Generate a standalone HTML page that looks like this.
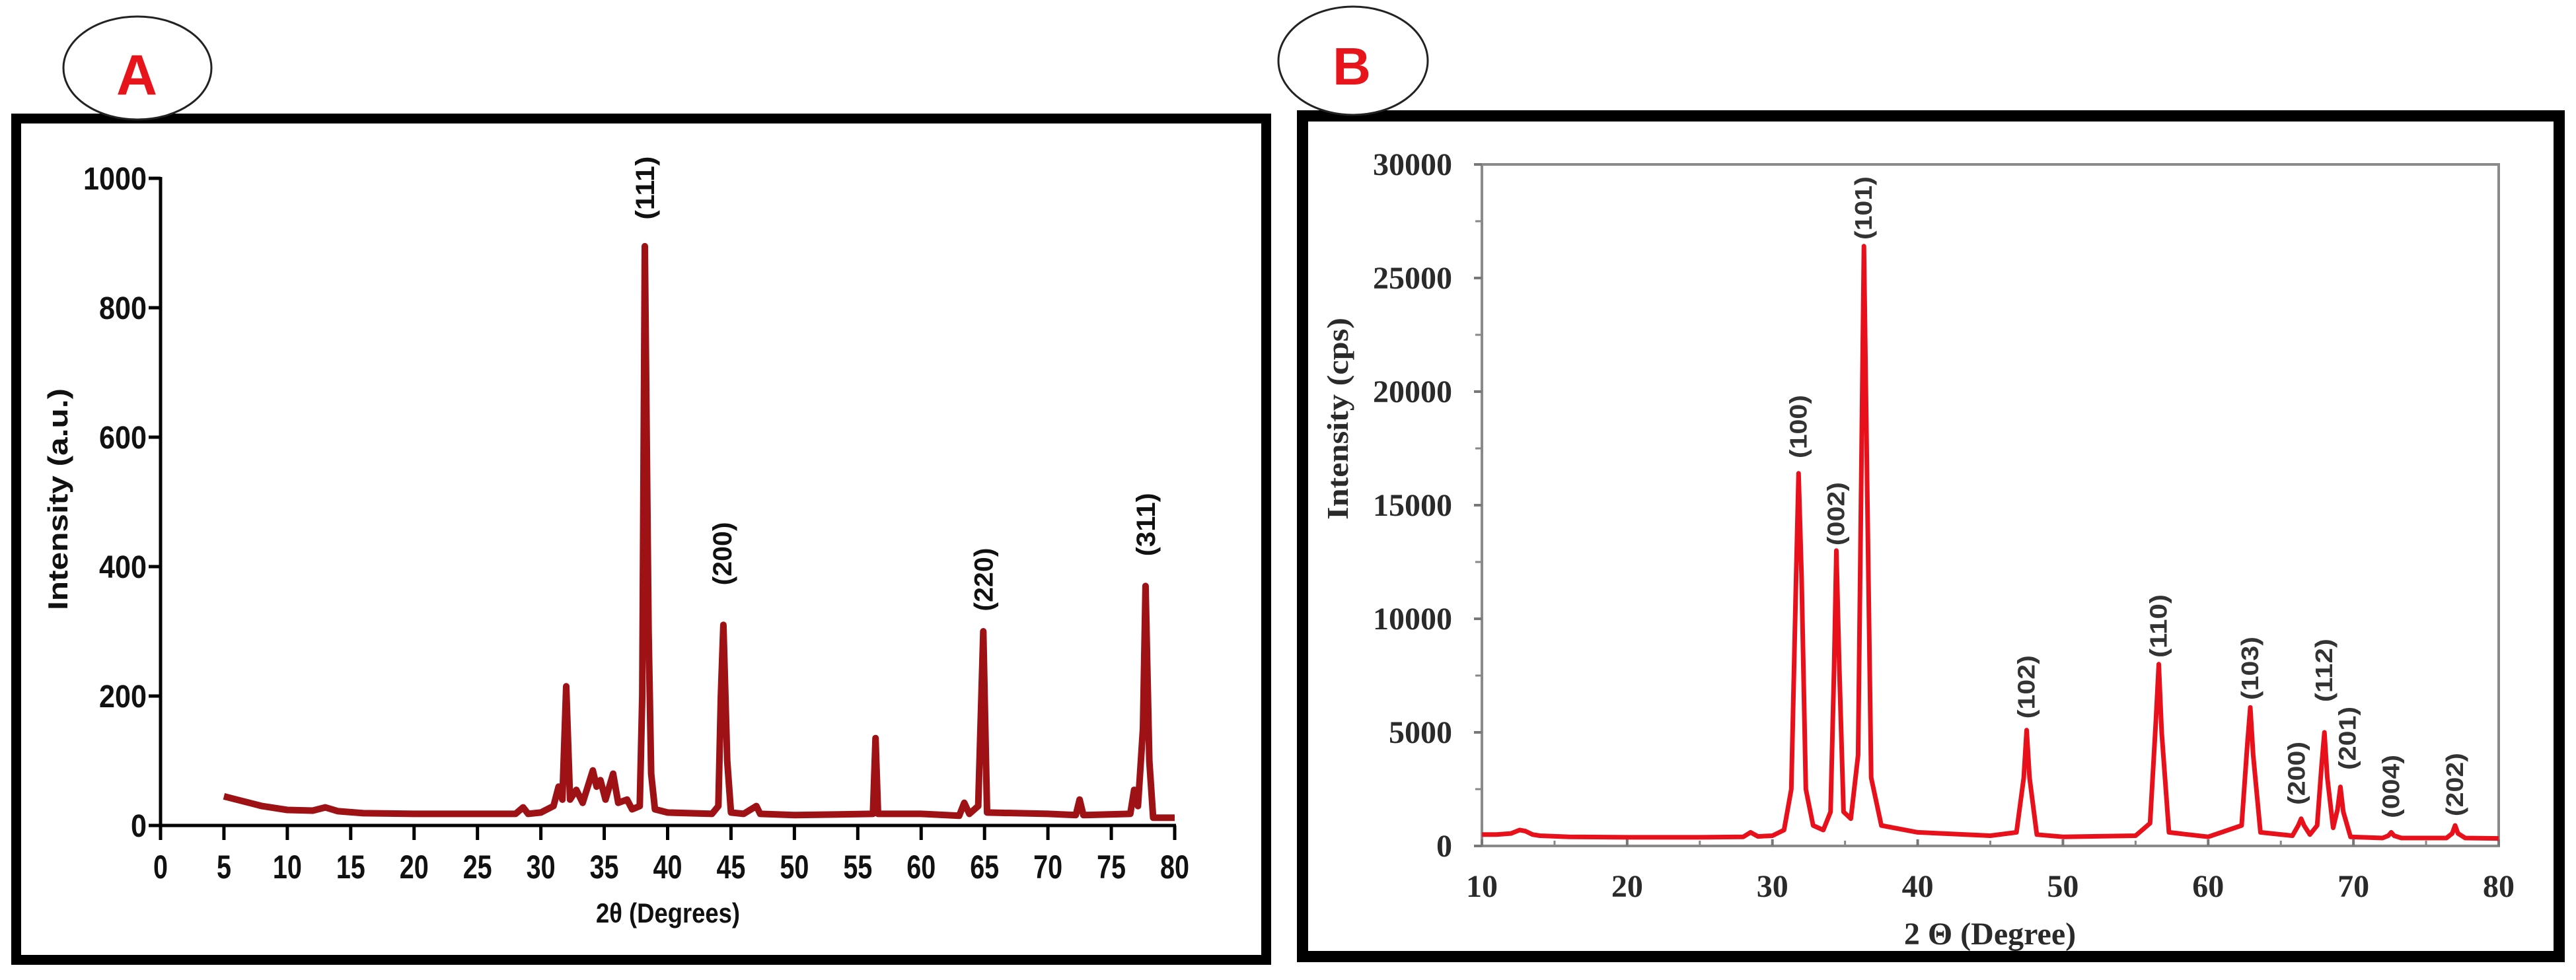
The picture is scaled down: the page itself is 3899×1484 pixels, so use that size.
<!DOCTYPE html>
<html><head><meta charset="utf-8">
<style>
html,body{margin:0;padding:0;background:#fff;}
svg{display:block;}
</style></head>
<body>
<svg id="fig" width="3899" height="1484" viewBox="0 0 3899 1484" xmlns="http://www.w3.org/2000/svg">
  <rect x="0" y="0" width="3899" height="1484" fill="#fff"/>
  <rect x="24.5" y="179.5" width="1892" height="1274" fill="none" stroke="#000" stroke-width="15"/>
  <ellipse cx="208" cy="103" rx="112" ry="78" fill="#fff" stroke="#222" stroke-width="3"/>
  <text x="207" y="143" text-anchor="middle" font-family="Liberation Sans, sans-serif" font-weight="bold" font-size="86" fill="#e8141c">A</text>
  <rect x="1971.5" y="175.5" width="1902" height="1273" fill="none" stroke="#000" stroke-width="17"/>
  <ellipse cx="2048" cy="92" rx="113" ry="82" fill="#fff" stroke="#222" stroke-width="3"/>
  <text x="2046" y="128" text-anchor="middle" font-family="Liberation Sans, sans-serif" font-weight="bold" font-size="80" fill="#e8141c">B</text>
  <g id="chartA"></g>
  <g id="chartB"></g>
</svg>
<script>
// ---------- Panel A data ----------
const aTheta = [5,6,7,8,10,12,13,14,16,20,25,28,28.6,29,30,31,31.4,31.7,32.0,32.3,32.8,33.3,34.1,34.4,34.7,35.1,35.7,36.1,36.8,37.2,37.8,38.0,38.2,38.5,38.7,39,40,43.5,44.0,44.2,44.4,44.7,45,46,47,47.3,50,56.2,56.4,56.6,60,63,63.4,63.8,64.5,64.9,65.2,70,72.2,72.5,72.8,76.5,76.8,77.1,77.5,77.7,78.0,78.3,80];
const aIntensity = [45,40,35,30,24,23,28,22,19,18,18,18,28,18,20,30,60,40,215,40,55,35,85,60,70,40,80,35,40,25,30,200,895,300,80,25,20,18,30,200,310,100,20,18,30,18,16,18,135,18,18,15,35,18,30,300,20,18,16,40,16,18,55,30,150,370,100,12,12];
const aYTicks = [0,200,400,600,800,1000];
const aXTicks = [0,5,10,15,20,25,30,35,40,45,50,55,60,65,70,75,80];
const aPeakLabels = ["(111)","(200)","(220)","(311)"];
const aPeakLabelTheta = [38.2,44.3,64.9,77.7];
const aPeakLabelY = [985,420,380,465];

// ---------- Panel B data ----------
const bTheta = [10,11,12,12.6,13,13.5,14,16,20,25,28,28.5,29,30,30.8,31.3,31.6,31.8,32.0,32.3,32.8,33.5,34.0,34.25,34.4,34.6,34.9,35.4,35.9,36.15,36.3,36.5,36.8,37.5,40,45,46.8,47.3,47.5,47.7,48.2,50,55,56.0,56.4,56.6,56.8,57.3,60,62.3,62.7,62.9,63.1,63.6,65.8,66.2,66.4,66.6,67.0,67.5,67.8,68.0,68.2,68.6,68.9,69.1,69.3,69.8,72.0,72.4,72.6,72.8,73.3,76.4,76.8,77.0,77.2,77.7,80];
const bIntensity = [500,500,550,700,650,500,450,400,380,380,400,600,420,450,700,2500,11000,16400,12000,2500,900,700,1500,8000,13000,8000,1500,1200,4000,18000,26400,17000,3000,900,600,450,600,3000,5100,3000,500,400,450,1000,5500,8000,5000,600,400,900,4500,6100,4000,600,450,900,1200,900,500,900,3500,5000,3000,800,1600,2600,1500,400,350,450,600,450,350,350,550,900,550,350,330];
const bYTicks = [0,5000,10000,15000,20000,25000,30000];
const bYMinor = [2500,7500,12500,17500,22500,27500];
const bXTicks = [10,20,30,40,50,60,70,80];
const bXMinor = [15,25,35,45,55,65,75];
const bPeakLabels = ["(100)","(002)","(101)","(102)","(110)","(103)","(200)","(112)","(201)","(004)","(202)"];
const bPeakLabelTheta = [31.8,34.4,36.3,47.5,56.6,62.9,66.1,68.0,69.6,72.6,77.0];
const bPeakLabelY = [18460,14620,28080,7000,9680,7820,3200,7730,4740,2620,2700];

const NS = "http://www.w3.org/2000/svg";
function mk(parent, tag, attrs, text){
  const e = document.createElementNS(NS, tag);
  for (const k in attrs) e.setAttribute(k, attrs[k]);
  if (text !== undefined) e.textContent = text;
  parent.appendChild(e);
  return e;
}

(function(){
  const g = document.getElementById('chartA');
  const x0 = 243, x1 = 1778, y0 = 1250, y1 = 270;
  const xs = v => x0 + (v - 0) / 80 * (x1 - x0);
  const ys = v => y0 - (v - 0) / 1000 * (y0 - y1);
  const SANS = "Liberation Sans, Arial, sans-serif";
  const NARROW = "Liberation Sans Narrow, Liberation Sans, Arial, sans-serif";

  let d = "";
  for (let i = 0; i < aTheta.length; i++) d += (i ? "L" : "M") + xs(aTheta[i]).toFixed(1) + " " + ys(aIntensity[i]).toFixed(1);
  const line = mk(g, 'path', {d: d, fill: 'none', stroke: '#9e1216', 'stroke-width': 10, 'stroke-linejoin': 'round'});
  
  

  const ya = mk(g, 'line', {x1: x0, y1: y1 - 2, x2: x0, y2: y0, stroke: '#000', 'stroke-width': 5});
  
  
  const xa = mk(g, 'line', {x1: x0 - 18, y1: y0, x2: x1 + 2, y2: y0, stroke: '#000', 'stroke-width': 5});
  
  

  aYTicks.forEach(v => {
    const y = ys(v);
    const t = mk(g, 'line', {x1: x0 - 18, y1: y, x2: x0, y2: y, stroke: '#000', 'stroke-width': 5});
    
    
    const s = String(v);
    const lb = mk(g, 'text', {x: 222, y: y + 17, 'text-anchor': 'end', 'font-family': NARROW, 'font-weight': 'bold', 'font-size': 48, textLength: s.length * 24, lengthAdjust: 'spacingAndGlyphs', fill: '#111'}, s);
    
    
  });
  aXTicks.forEach(v => {
    const x = xs(v);
    const t = mk(g, 'line', {x1: x, y1: y0, x2: x, y2: y0 + 22, stroke: '#000', 'stroke-width': 5});
    
    
    const s = String(v);
    const lb = mk(g, 'text', {x: x, y: 1330, 'text-anchor': 'middle', 'font-family': NARROW, 'font-weight': 'bold', 'font-size': 50, textLength: s.length * 22, lengthAdjust: 'spacingAndGlyphs', fill: '#111'}, s);
    
    
  });

  const xt = mk(g, 'text', {x: 1011, y: 1397, 'text-anchor': 'middle', 'font-family': NARROW, 'font-weight': 'bold', 'font-size': 42, textLength: 218, lengthAdjust: 'spacingAndGlyphs', fill: '#111'}, '2θ (Degrees)');
  
  
  const yt = mk(g, 'text', {x: 0, y: 0, transform: 'translate(102,756) rotate(-90)', 'text-anchor': 'middle', 'font-family': SANS, 'font-weight': 'bold', 'font-size': 42, textLength: 336, lengthAdjust: 'spacingAndGlyphs', fill: '#111'}, 'Intensity (a.u.)');
  
  

  aPeakLabels.forEach((s, i) => {
    const cx = xs(aPeakLabelTheta[i]), cy = ys(aPeakLabelY[i]);
    const lb = mk(g, 'text', {x: 0, y: 0, transform: 'translate(' + (cx + 14).toFixed(1) + ',' + cy.toFixed(1) + ') rotate(-90)', 'text-anchor': 'middle', 'font-family': SANS, 'font-weight': 'bold', 'font-size': 40, textLength: 96, lengthAdjust: 'spacingAndGlyphs', fill: '#111'}, s);
    
    
  });
})();

(function(){
  const g = document.getElementById('chartB');
  const x0 = 2243, x1 = 3782, y0 = 1281, y1 = 249;
  const xs = v => x0 + (v - 10) / 70 * (x1 - x0);
  const ys = v => y0 - v / 30000 * (y0 - y1);
  const SERIF = "Liberation Serif, Times New Roman, serif";
  const SANS = "Liberation Sans, Arial, sans-serif";

  const fr = mk(g, 'rect', {x: x0, y: y1, width: x1 - x0, height: y0 - y1, fill: 'none', stroke: '#8a8a8a', 'stroke-width': 4});
  
  

  bYTicks.forEach(v => {
    const y = ys(v);
    const t = mk(g, 'line', {x1: x0 - 12, y1: y, x2: x0, y2: y, stroke: '#777', 'stroke-width': 4});
    
    
    const lb = mk(g, 'text', {x: 2198, y: y + 16, 'text-anchor': 'end', 'font-family': SERIF, 'font-weight': 'bold', 'font-size': 48, fill: '#2a2a2a'}, String(v));
    
    
  });
  bYMinor.forEach(v => {
    const y = ys(v);
    const t = mk(g, 'line', {x1: x0 - 10, y1: y, x2: x0, y2: y, stroke: '#888', 'stroke-width': 3});
    
    
  });
  bXTicks.forEach(v => {
    const x = xs(v);
    const t = mk(g, 'line', {x1: x, y1: y0, x2: x, y2: y0 - 10, stroke: '#777', 'stroke-width': 4});
    
    
    const lb = mk(g, 'text', {x: x, y: 1358, 'text-anchor': 'middle', 'font-family': SERIF, 'font-weight': 'bold', 'font-size': 48, fill: '#2a2a2a'}, String(v));
    
    
  });
  bXMinor.forEach(v => {
    const x = xs(v);
    const t = mk(g, 'line', {x1: x, y1: y0, x2: x, y2: y0 - 8, stroke: '#888', 'stroke-width': 3});
    
    
  });

  let d = "";
  for (let i = 0; i < bTheta.length; i++) d += (i ? "L" : "M") + xs(bTheta[i]).toFixed(1) + " " + ys(bIntensity[i]).toFixed(1);
  const line = mk(g, 'path', {d: d, fill: 'none', stroke: '#e8101a', 'stroke-width': 7, 'stroke-linejoin': 'round'});
  
  

  const xt = mk(g, 'text', {x: 3012, y: 1430, 'text-anchor': 'middle', 'font-family': SERIF, 'font-weight': 'bold', 'font-size': 48, fill: '#2a2a2a'}, '2 Θ (Degree)');
  
  
  const yt = mk(g, 'text', {x: 0, y: 0, transform: 'translate(2040,634) rotate(-90)', 'text-anchor': 'middle', 'font-family': SERIF, 'font-weight': 'bold', 'font-size': 46, textLength: 306, lengthAdjust: 'spacingAndGlyphs', fill: '#2a2a2a'}, 'Intensity (cps)');
  
  

  bPeakLabels.forEach((s, i) => {
    const cx = xs(bPeakLabelTheta[i]), cy = ys(bPeakLabelY[i]);
    const lb = mk(g, 'text', {x: 0, y: 0, transform: 'translate(' + (cx + 12).toFixed(1) + ',' + cy.toFixed(1) + ') rotate(-90)', 'text-anchor': 'middle', 'font-family': SANS, 'font-weight': 'bold', 'font-size': 36, textLength: 96, lengthAdjust: 'spacingAndGlyphs', fill: '#333'}, s);
    
    
  });
})();
</script>
</body></html>
